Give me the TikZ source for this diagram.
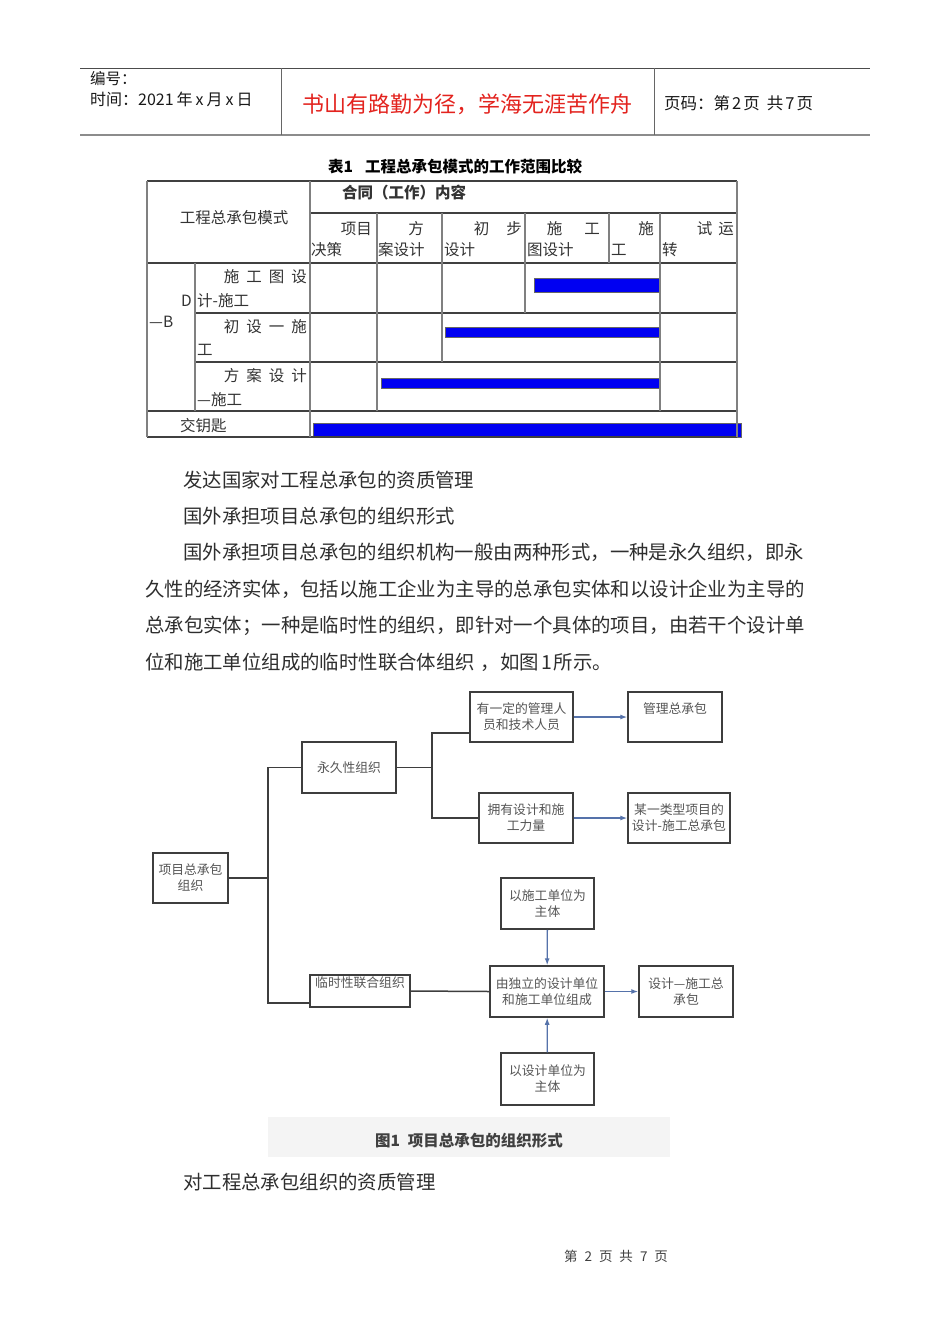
\documentclass[tikz,border=0pt]{standalone}
\usepackage{fontspec}
\setmainfont{Noto Sans CJK SC}
\usepackage{xcolor}
\usepackage{tikz}
\usetikzlibrary{arrows.meta, positioning}
\definecolor{mottored}{HTML}{E3231E}
\definecolor{barblue}{HTML}{0000F2}
\definecolor{boxline}{HTML}{3E3E3E}
\definecolor{boxtext}{HTML}{555555}
\definecolor{arrowblue}{HTML}{5572AA}
\definecolor{capfill}{HTML}{F4F4F4}
\newcommand{\fsz}[2]{\fontsize{#1}{#2}\selectfont}
\newcommand{\tgap}{\hspace{7pt}}
\tikzset{
  para/.style={anchor=west, inner sep=0pt, font=\fsz{19.4}{23}, text=black!82},
  headtxt/.style={anchor=west, inner sep=0pt, font=\fsz{15.5}{18}, text=black!90},
  cell/.style={inner sep=0pt, font=\fsz{15.5}{18}, text=black!80},
  orgbox/.style={rectangle, draw=boxline, line width=1.5pt, fill=white, align=center, font=\fsz{12.8}{16}, text=boxtext, inner sep=1pt},
  hline/.style={draw=black!75, line width=1.6pt},
  vline/.style={draw=black!50, line width=2.2pt},
  bar/.style={fill=barblue, draw=black!60, line width=0.5pt},
  link/.style={draw=boxline, line width=1.5pt},
  arr/.style={-{Latex[length=7pt,width=5pt]}, line width=1.3pt, arrowblue},
}

\begin{document}
\begin{tikzpicture}[x=1pt, y=-1pt]
\useasboundingbox (0,0) rectangle (950,1344);
\fill[white] (0,0) rectangle (950,1344);

% page header
\draw[black!70, line width=1pt] (80,68) -- (870,68);
\draw[black!45, line width=2.5pt] (80,135) -- (870,135);
\draw[black!60, line width=1pt] (281,68) -- (281,135);
\draw[black!60, line width=1pt] (654,68) -- (654,135);
\node[headtxt] (hnum) at (90,79) {编号：};
\node[headtxt, font=\fsz{16}{18}] (hdate) at (90,99) {时间：2021\hspace{3pt}年\hspace{3pt}x\hspace{3pt}月\hspace{3pt}x\hspace{3pt}日};
\node[inner sep=0pt, font=\fsz{22}{26}, text=mottored] (motto) at (467.5,104) {书山有路勤为径，学海无涯苦作舟};
\node[headtxt, font=\fsz{16.5}{18}] (hpage) at (664,103) {页码：第\hspace{2pt}2\hspace{2pt}页\hspace{7pt}共\hspace{2pt}7\hspace{2pt}页};

% table 1
\node[inner sep=0pt, font=\fsz{15.5}{18}\bfseries, anchor=west] (ttitle) at (328,167) {表1\hspace{12pt}工程总承包模式的工作范围比较};
\draw[bar] (534,278) rectangle (660,292);
\draw[bar] (445,327) rectangle (660,337);
\draw[bar] (381,378) rectangle (660,388);
\draw[bar] (313,423) rectangle (741,437);
\foreach \y in {181,263,411,437}
  \draw[hline] (147,\y) -- (737,\y);
\draw[hline] (310,213) -- (737,213);
\draw[hline] (195,313) -- (737,313);
\draw[hline] (195,362) -- (737,362);
\draw[vline] (147,181) -- (147,437);
\draw[vline] (737,181) -- (737,437);
\draw[vline] (310,181) -- (310,437);
\draw[vline] (195,263) -- (195,411);
\draw[vline] (377,213) -- (377,411);
\draw[vline] (442,213) -- (442,362);
\draw[vline] (525,213) -- (525,313);
\draw[vline] (609,213) -- (609,263);
\draw[vline] (660,213) -- (660,411);

\node[cell] (tmode) at (234,218) {工程总承包模式};
\node[cell, anchor=west, font=\fsz{15.5}{18}\bfseries] (tcontent) at (342,193) {合同（工作）内容};
% column heads
\node[cell, anchor=east] (c1a) at (372,229) {项目};
\node[cell, anchor=west] (c1b) at (311,250) {决策};
\node[cell, anchor=east] (c2a) at (424,229) {方};
\node[cell, anchor=west] (c2b) at (378,250) {案设计};
\node[cell, anchor=east] (c3a) at (522,229) {初\hspace{17pt}步};
\node[cell, anchor=west] (c3b) at (444,250) {设计};
\node[cell, anchor=east] (c4a) at (600,229) {施\hspace{22pt}工};
\node[cell, anchor=west] (c4b) at (527,250) {图设计};
\node[cell, anchor=east] (c5a) at (654,229) {施};
\node[cell, anchor=west] (c5b) at (611,250) {工};
\node[cell, anchor=east] (c6a) at (734,229) {试\hspace{6pt}运};
\node[cell, anchor=west] (c6b) at (662,250) {转};
% row heads
\node[cell, anchor=east] (r1a) at (307,277) {施\tgap 工\tgap 图\tgap 设};
\node[cell, anchor=west] (r1b) at (197,301) {计-施工};
\node[cell, anchor=west] (r1d) at (181,301) {D};
\node[cell, anchor=west] (rgrp) at (149,322) {—B};
\node[cell, anchor=east] (r2a) at (307,327) {初\tgap 设\tgap 一\tgap 施};
\node[cell, anchor=west] (r2b) at (197,350) {工};
\node[cell, anchor=east] (r3a) at (307,376) {方\tgap 案\tgap 设\tgap 计};
\node[cell, anchor=west] (r3b) at (197,400) {—施工};
\node[cell, anchor=west] (r4a) at (180,426) {交钥匙};

% text
\node[para] (p1) at (183,480) {发达国家对工程总承包的资质管理};
\node[para] (p2) at (183,516) {国外承担项目总承包的组织形式};
\node[para] (p3) at (183,552) {国外承担项目总承包的组织机构一般由两种形式，一种是永久组织，即永};
\node[para] (p4) at (145,589) {久性的经济实体，包括以施工企业为主导的总承包实体和以设计企业为主导的};
\node[para] (p5) at (145,626) {总承包实体；一种是临时性的组织，即针对一个具体的项目，由若干个设计单};
\node[para] (p6) at (145,662) {位和施工单位组成的临时性联合体组织\hspace{6pt}，如图\hspace{2pt}1\hspace{2pt}所示。};

% figure 1
\node[orgbox, minimum width=75, minimum height=50] (proj) at (190.5,878) {项目总承包\\组织};
\node[orgbox, minimum width=94, minimum height=51] (perm) at (349,767.5) {永久性组织};
\node[orgbox, minimum width=103, minimum height=50] (mgmt) at (521.5,717) {有一定的管理人\\员和技术人员};
\node[orgbox, minimum width=94, minimum height=50] (capab) at (526,818) {拥有设计和施\\工力量};
\node[orgbox, minimum width=94, minimum height=50] (gcm) at (675,717) {管理总承包\\\phantom{管}};
\node[orgbox, minimum width=102, minimum height=50] (gcd) at (679,818) {某一类型项目的\\设计-施工总承包};
\node[orgbox, minimum width=100, minimum height=32] (temp) at (360,991) {临时性联合组织\\\phantom{临}};
\node[orgbox, minimum width=114, minimum height=51] (core) at (547,991.5) {由独立的设计单位\\和施工单位组成};
\node[orgbox, minimum width=94, minimum height=51] (dbgc) at (686,991.5) {设计—施工总\\承包};
\node[orgbox, minimum width=93, minimum height=51] (cons) at (547.5,903.5) {以施工单位为\\主体};
\node[orgbox, minimum width=93, minimum height=52] (desn) at (547.5,1079) {以设计单位为\\主体};

\coordinate (trunktop) at (268,767.5);
\coordinate (trunkbot) at (268,1003);
\coordinate (forktop) at (432,733);
\coordinate (forkbot) at (432,818);
\draw[link] (proj.east) -- (proj.east -| trunktop);
\draw[link] (perm.west) -- (trunktop) -- (trunkbot) -- (trunkbot -| temp.west);
\draw[link] (perm.east) -- (perm.east -| forktop);
\draw[link] (forktop -| mgmt.west) -- (forktop) -- (forkbot) -- (capab.west);
\draw[link] (temp.east) -- (core.west);
\draw[arr] (mgmt) -- (gcm);
\draw[arr] (capab) -- (gcd);
\draw[arr] (core) -- (dbgc);
\draw[arr] (cons) -- (core);
\draw[arr] (desn) -- (core);

\node[fill=capfill, minimum width=402, minimum height=40, inner sep=0pt] (capbg) at (469,1137) {};
\node[inner sep=0pt, font=\fsz{15.5}{18}\bfseries, text=black!75] (cap) at (469,1141) {图1\hspace{8pt}项目总承包的组织形式};

\node[para] (p7) at (183,1182) {对工程总承包组织的资质管理};

% page footer
\node[inner sep=0pt, font=\fsz{13.5}{16}, text=black!75] (foot) at (616,1256) {第\hspace{7pt}2\hspace{7pt}页\hspace{7pt}共\hspace{7pt}7\hspace{7pt}页};
\end{tikzpicture}
\end{document}
